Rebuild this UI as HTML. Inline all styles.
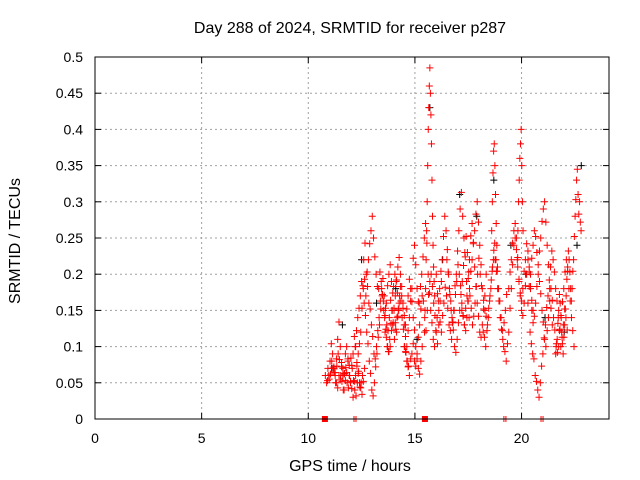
<!DOCTYPE html>
<html><head><meta charset="utf-8"><style>
body{margin:0;background:#fff;}
svg{display:block;font-family:"Liberation Sans",sans-serif;}
</style></head><body>
<svg id="chart" width="640" height="480" viewBox="0 0 640 480" xmlns="http://www.w3.org/2000/svg">
<rect width="640" height="480" fill="#fff"/>
<text x="350" y="33" text-anchor="middle" font-size="16">Day 288 of 2024, SRMTID for receiver p287</text>
<g id="grid"></g>
<g id="ticks"></g>
<g id="marks"></g>
<rect x="95" y="57" width="514" height="362" fill="none" stroke="#000" stroke-width="1"/>
<text x="350" y="471" text-anchor="middle" font-size="16">GPS time / hours</text>
<text transform="translate(20,241) rotate(-90)" text-anchor="middle" font-size="16">SRMTID / TECUs</text>
</svg>
<script>
const xTicks=[0,5,10,15,20];
const yTicks=[0,0.05,0.1,0.15,0.2,0.25,0.3,0.35,0.4,0.45,0.5];
const yTickLabels=["0","0.05","0.1","0.15","0.2","0.25","0.3","0.35","0.4","0.45","0.5"];
const trackStarts=[10.8,10.9,11.2,12.2,12.6,13.3,14.5,15.45,15.2,16.0,17.2,18.6,18.2,19.8,19.4,20.4,20.3,21.6,13.6,16.5];
const trackSteps=[0.06,0.06,0.06,0.06,0.06,0.06,0.06,0.025,0.06,0.06,0.06,0.03,0.06,0.03,0.06,0.06,0.06,0.035,0.06,0.06];
const trackValues=[
[0.06,0.05,0.07,0.055,0.062,0.08,0.07,0.064,0.05,0.073,0.09,0.082,0.06,0.052,0.04,0.063,0.071,0.05,0.043,0.06,0.084,0.07,0.053,0.04,0.032,0.05,0.066,0.044,0.05,0.06],
[0.053,0.06,0.08,0.104,0.09,0.072,0.06,0.083,0.11,0.134,0.1,0.078,0.07,0.062,0.09,0.1,0.083,0.06,0.052,0.074,0.09,0.114,0.1,0.078,0.063,0.05,0.043,0.034,0.052,0.07],
[0.07,0.064,0.05,0.043,0.06,0.054,0.072,0.06,0.04,0.053,0.064,0.08,0.074,0.05,0.042,0.03,0.052,0.06,0.073,0.09,0.104,0.12,0.153,0.18,0.193,0.17,0.203,0.22,0.242,0.26,0.28,0.25,0.224,0.2,0.183],
[0.1,0.122,0.14,0.153,0.17,0.19,0.184,0.16,0.143,0.12,0.104,0.08,0.063,0.04,0.032,0.05,0.072,0.09,0.113,0.13,0.152,0.17,0.163,0.14,0.124,0.1,0.093,0.11,0.132,0.15,0.183,0.2,0.19,0.174,0.15],
[0.22,0.243,0.2,0.183,0.16,0.152,0.13,0.114,0.09,0.083,0.1,0.122,0.14,0.163,0.18,0.194,0.17,0.153,0.13,0.122,0.14,0.164,0.15,0.133,0.11,0.124,0.14,0.152,0.17,0.163,0.14,0.124,0.1,0.092,0.08,0.073],
[0.18,0.203,0.19,0.172,0.15,0.143,0.16,0.184,0.2,0.213,0.19,0.174,0.15,0.133,0.12,0.142,0.16,0.183,0.17,0.153,0.13,0.114,0.1,0.122,0.14,0.163,0.18,0.222,0.24,0.213,0.18,0.162],
[0.1,0.093,0.08,0.072,0.06,0.083,0.09,0.104,0.08,0.073,0.09,0.113,0.13,0.152,0.17,0.163,0.14,0.122,0.15,0.172,0.19,0.2,0.183,0.16,0.143,0.12,0.104,0.13,0.163,0.19],
[0.12,0.15,0.18,0.22,0.26,0.3,0.35,0.4,0.43,0.46,0.485,0.45,0.42,0.38,0.33,0.28,0.24,0.21,0.19,0.17],
[0.16,0.183,0.2,0.224,0.25,0.27,0.243,0.2,0.174,0.15,0.133,0.11,0.1,0.122,0.14,0.163,0.18,0.204,0.22,0.252,0.28,0.26,0.234,0.2,0.172,0.15,0.133,0.15,0.184,0.2,0.232,0.26,0.29,0.313,0.28,0.25,0.224,0.19,0.163,0.14],
[0.2,0.173,0.15,0.134,0.12,0.143,0.16,0.182,0.17,0.153,0.13,0.122,0.11,0.134,0.15,0.172,0.19,0.213,0.2,0.184,0.16,0.142,0.13,0.153,0.17,0.194,0.22,0.253,0.27,0.244,0.21,0.183,0.16,0.142,0.12,0.113,0.13,0.152,0.17,0.2],
[0.15,0.143,0.13,0.122,0.14,0.163,0.18,0.204,0.22,0.242,0.26,0.283,0.3,0.272,0.24,0.213,0.18,0.164,0.15,0.142,0.13,0.153,0.17,0.192,0.21,0.233,0.22,0.204,0.18,0.163,0.14,0.124,0.11,0.133,0.15,0.172],
[0.26,0.3,0.34,0.37,0.38,0.35,0.31,0.27,0.24,0.21],
[0.12,0.113,0.1,0.122,0.14,0.163,0.18,0.204,0.22,0.243,0.22,0.204,0.18,0.163,0.14,0.122,0.1,0.093,0.08,0.104,0.12,0.153,0.18,0.213,0.24,0.27,0.25,0.223,0.19,0.174,0.15,0.143,0.16,0.184,0.2,0.232,0.21,0.183,0.15,0.133],
[0.22,0.26,0.3,0.33,0.36,0.38,0.4,0.35,0.3,0.26],
[0.18,0.203,0.22,0.243,0.26,0.25,0.234,0.21,0.193,0.17,0.163,0.18,0.204,0.22,0.242,0.22,0.203,0.18,0.164,0.15,0.142,0.16,0.183,0.2,0.232,0.25,0.273,0.29,0.3,0.272,0.24,0.213,0.18,0.153,0.13],
[0.12,0.104,0.09,0.083,0.06,0.052,0.04,0.03,0.05,0.073,0.09,0.112,0.13,0.154,0.17,0.192,0.21,0.232,0.22,0.203,0.18,0.163,0.14,0.122,0.1,0.113,0.13,0.152,0.14,0.123],
[0.16,0.183,0.2,0.222,0.24,0.26,0.252,0.23,0.213,0.19,0.173,0.15,0.134,0.11,0.1,0.122,0.14,0.163,0.18,0.164,0.14,0.123,0.1,0.092,0.1,0.124,0.14,0.162,0.18,0.203,0.22,0.204,0.18,0.163,0.14,0.122,0.1],
[0.09,0.104,0.11,0.132,0.15,0.172,0.16,0.143,0.12,0.104,0.09,0.113,0.13,0.152,0.17,0.193,0.21,0.232,0.22,0.203,0.18,0.163,0.18,0.204,0.22,0.252,0.28,0.303,0.33,0.345,0.31,0.283,0.3,0.272,0.26],
[0.12,0.113,0.1,0.093,0.1,0.122,0.13,0.153,0.17,0.192,0.21,0.223,0.2,0.183,0.16,0.143,0.13,0.152,0.17,0.193,0.18,0.162,0.14,0.123,0.1,0.083,0.07,0.062,0.08,0.1],
[0.22,0.203,0.18,0.163,0.14,0.123,0.1,0.092,0.11,0.133,0.15,0.172,0.19,0.212,0.23,0.252,0.23,0.203,0.17,0.153,0.13,0.142,0.16,0.183,0.2,0.222,0.2,0.184]
];
const blackTimes=[11.1,11.6,12.5,13.2,14.1,15.1,15.7,16.3,17.1,17.9,18.7,19.5,20.2,21.1,22.0,22.6,22.8];
const blackValues=[0.07,0.13,0.22,0.16,0.18,0.11,0.43,0.22,0.31,0.28,0.33,0.24,0.2,0.14,0.12,0.24,0.35];
const zeroTimes=[10.78,12.19,15.47,19.22,20.96];
const zeroKinds=["box","bar","box","bar","bar"];

const X0=95,X1=609,Y0=419,Y1=57,XMAX=24.1,YMAX=0.5;
const sx=t=>X0+t/XMAX*(X1-X0);
const sy=v=>Y0-v/YMAX*(Y0-Y1);
const NS="http://www.w3.org/2000/svg";
const grid=document.getElementById('grid'),ticks=document.getElementById('ticks'),marks=document.getElementById('marks');
function mk(tag,attrs,parent){const e=document.createElementNS(NS,tag);for(const k in attrs)e.setAttribute(k,attrs[k]);parent.appendChild(e);return e;}
xTicks.forEach(t=>{
  const x=sx(t);
  if(t>0){const g=mk('line',{x1:x,x2:x,y1:Y1,y2:Y0,stroke:'#a0a0a0','stroke-dasharray':'2,3'},grid);
  
  }
  mk('line',{x1:x,x2:x,y1:Y0,y2:Y0-6,stroke:'#000'},ticks);
  mk('line',{x1:x,x2:x,y1:Y1,y2:Y1+6,stroke:'#000'},ticks);
  const l=mk('text',{x:x,y:443,'text-anchor':'middle','font-size':14},ticks);l.textContent=t;
  
  
});
yTicks.forEach((v,i)=>{
  const y=sy(v);
  if(v>0&&v<YMAX){const g=mk('line',{x1:X0,x2:X1,y1:y,y2:y,stroke:'#a0a0a0','stroke-dasharray':'2,3'},grid);
  
  }
  mk('line',{x1:X0,x2:X0+6,y1:y,y2:y,stroke:'#000'},ticks);
  mk('line',{x1:X1,x2:X1-6,y1:y,y2:y,stroke:'#000'},ticks);
  const l=mk('text',{x:83,y:y+5,'text-anchor':'end','font-size':14},ticks);l.textContent=yTickLabels[i];
  
  
});
function plus(t,v,c){
  const x=sx(t),y=sy(v);
  const p=mk('path',{d:`M${x-3.5},${y}H${x+3.5}M${x},${y-3.5}V${y+3.5}`,stroke:c,'stroke-width':1,fill:'none'},marks);
  
  
}
blackTimes.forEach((t,i)=>plus(t,blackValues[i],'#000'));
trackValues.forEach((vals,k)=>vals.forEach((v,i)=>plus(trackStarts[k]+i*trackSteps[k],v,'#ff0000')));
zeroTimes.forEach((t,i)=>{
  const x=sx(t);
  let e;
  if(zeroKinds[i]==='box'){e=mk('rect',{x:x-3,y:Y0-3,width:6,height:6,fill:'#ff0000'},marks);}
  else{e=mk('path',{d:`M${x-1},${Y0-3}V${Y0+3}M${x+1},${Y0-3}V${Y0+3}`,stroke:'#ff0000','stroke-width':1},marks);}
  
  
});
</script>
</body></html>
